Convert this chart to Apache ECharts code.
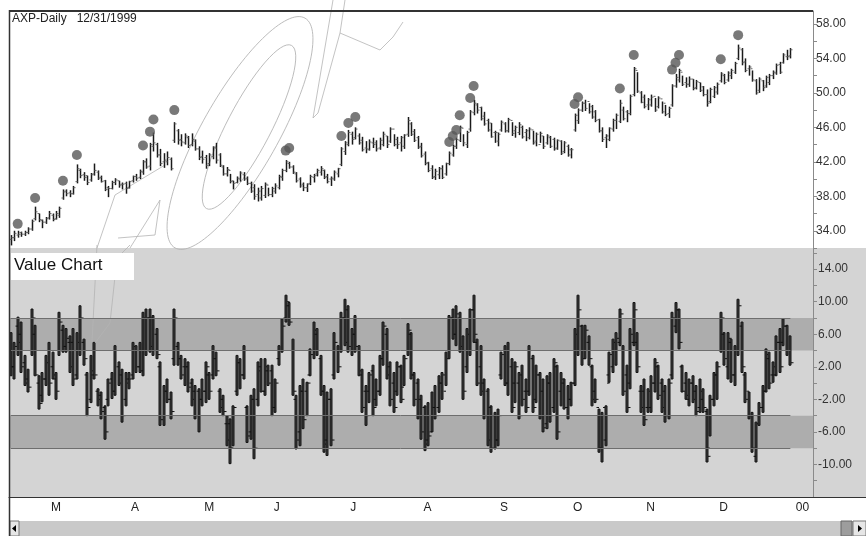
<!DOCTYPE html>
<html><head><meta charset="utf-8">
<script src="https://cdn.jsdelivr.net/npm/echarts/dist/echarts.min.js"></script>
<style>html,body{margin:0;padding:0;background:#fff;}#c{width:866px;height:536px;}</style>
</head><body><div id="c"></div>
<script>
// ---- categories: trading days ----
const firstDay = '1999-02-11', lastDay = '1999-12-31';
const holidays = ['1999-02-15','1999-04-02','1999-05-31','1999-07-05','1999-09-06','1999-11-25','1999-12-24'];
const padDays = ['2000-01-03','2000-01-04','2000-01-05','2000-01-06','2000-01-07','2000-01-10'];
const monthLetters = ['00','F','M','A','M','J','J','A','S','O','N','D'];

// ---- price (AXP daily) ----
const pHigh = [33.5,34.0,34.0,33.9,34.0,34.4,35.3,36.8,36.0,35.3,
35.6,36.3,36.0,36.3,36.8,38.8,38.8,38.7,39.2,41.7,
41.2,40.8,40.4,40.7,41.8,41.0,40.4,39.9,39.2,39.8,
40.1,39.8,39.6,39.7,39.8,40.4,40.6,41.1,42.2,42.4,
44.2,45.4,44.2,43.5,43.0,43.2,42.5,46.6,45.8,45.2,
45.3,45.0,45.3,44.6,43.8,43.3,42.8,43.0,43.8,44.2,
43.0,41.6,41.4,40.6,39.8,40.3,40.9,40.8,40.3,39.7,
39.4,39.0,39.2,39.6,39.0,39.1,39.5,40.5,41.2,42.2,
42.0,41.6,40.8,40.2,39.6,39.5,40.5,40.6,41.2,41.5,
41.1,40.6,40.3,41.0,41.3,43.7,44.4,45.7,45.5,46.0,
45.3,44.9,44.4,44.6,44.8,44.5,44.8,45.5,45.0,46.0,
45.2,44.9,45.0,45.2,47.2,46.6,45.8,45.0,44.2,43.2,
42.0,41.6,41.2,41.4,41.6,41.9,43.2,44.0,44.8,46.2,
45.2,45.6,48.0,49.2,48.8,48.4,47.8,47.0,46.5,45.6,
45.4,46.8,46.6,47.1,46.6,46.2,46.6,46.2,45.8,46.0,
45.6,45.4,45.5,45.0,45.2,45.0,44.8,44.6,44.5,44.4,
44.0,43.6,47.6,48.2,49.0,49.2,48.8,48.6,48.0,47.0,
46.0,45.2,46.0,47.0,47.6,49.2,48.4,48.0,49.8,53.0,
52.4,50.2,49.8,49.4,49.8,49.4,49.6,49.0,48.6,48.4,
51.0,52.2,52.8,52.0,51.8,51.9,51.6,51.5,51.2,50.8,
50.4,50.6,50.8,51.2,52.4,52.2,52.5,52.8,53.6,55.6,
55.2,54.0,53.2,52.6,51.6,51.8,51.5,52.0,52.2,52.6,
53.4,53.6,54.6,55.0,55.2];
const pLow = [32.3,32.8,33.2,33.3,33.4,33.6,34.0,35.2,35.0,34.3,
34.8,35.3,35.1,35.3,35.5,37.6,38.0,37.9,38.2,39.5,
40.1,39.8,39.3,39.7,40.4,39.9,39.6,38.6,37.9,38.8,
39.3,39.0,38.8,38.3,38.9,39.6,39.8,40.0,40.5,41.2,
41.0,43.2,42.5,41.5,41.3,41.6,41.0,44.2,44.0,43.8,
44.0,43.6,43.8,43.3,42.2,41.8,41.2,41.5,42.3,41.8,
41.4,40.4,40.3,39.5,38.8,39.5,39.7,39.8,39.3,38.4,
37.6,37.4,37.5,37.8,38.0,37.9,38.3,38.8,39.8,40.8,
41.2,40.6,39.6,39.0,38.6,38.5,39.3,39.6,40.3,40.4,
40.0,39.5,39.2,39.8,40.2,41.5,42.8,43.8,44.0,44.6,
44.0,43.2,43.0,43.3,43.6,43.2,43.4,43.8,43.6,44.2,
43.8,43.5,43.2,43.5,44.9,45.0,44.3,43.5,42.5,41.6,
40.8,40.0,39.9,40.0,40.0,40.4,41.6,42.6,43.5,44.3,
43.8,43.6,45.5,47.4,47.6,46.8,46.2,45.5,44.8,44.2,
43.8,45.5,45.4,45.4,45.0,44.8,45.1,44.7,44.4,44.6,
44.0,43.8,44.2,43.5,44.0,43.6,43.3,43.4,42.8,43.0,
42.6,42.4,45.5,46.4,47.8,47.9,47.6,47.0,46.6,45.4,
44.3,43.6,44.4,45.5,45.8,46.5,46.8,46.6,47.4,49.6,
50.0,48.8,48.2,48.0,48.4,47.8,48.2,47.6,47.3,47.1,
48.4,50.6,51.2,50.8,50.6,50.7,50.3,50.4,50.1,49.6,
48.4,48.8,49.4,49.8,51.2,51.0,51.3,51.6,52.2,53.8,
53.2,52.4,52.0,51.3,49.8,50.0,50.2,50.6,50.9,51.6,
52.1,52.2,53.4,53.8,54.0];
const pOpen = [33.0,33.2,33.5,33.8,33.6,33.8,34.2,35.4,36.0,35.2,
35.0,35.5,35.8,35.4,35.8,37.8,38.6,38.4,38.3,39.7,
41.0,40.5,40.4,39.9,40.6,40.8,40.2,39.8,39.0,38.9,
39.6,39.8,39.4,39.5,39.0,39.8,40.3,40.2,40.8,42.0,
41.5,43.8,44.0,42.8,42.0,42.0,42.3,44.5,45.6,44.6,
44.2,44.8,44.0,44.4,43.5,42.6,42.5,41.8,42.6,43.6,
42.8,41.4,40.6,41.0,39.8,39.6,40.0,40.5,40.1,39.5,
39.0,38.2,37.8,38.1,39.3,38.2,38.6,39.0,40.2,41.0,
41.8,41.4,40.6,40.0,39.4,39.0,39.5,40.2,40.6,40.8,
41.0,40.3,40.0,40.0,40.6,41.7,43.2,44.0,45.2,44.8,
45.0,44.5,43.6,43.4,44.2,44.2,43.6,44.0,45.0,44.4,
45.8,44.6,44.2,43.8,45.2,46.4,45.5,44.8,43.8,42.9,
41.9,41.2,40.3,40.5,41.2,40.6,41.8,42.8,43.8,44.5,
45.9,44.0,45.8,47.7,48.6,48.3,47.3,46.8,46.5,45.4,
44.4,45.7,46.4,45.6,46.8,45.6,45.4,46.0,45.4,44.8,
45.7,44.4,44.0,45.0,44.2,44.8,44.6,43.6,44.4,43.2,
43.8,43.4,45.7,46.8,48.0,48.8,49.0,48.4,47.8,46.9,
45.6,44.8,44.6,45.8,46.8,46.7,48.0,47.8,47.6,49.8,
52.6,50.0,49.5,48.6,48.6,49.6,48.4,49.3,48.8,47.6,
48.6,50.8,51.5,52.4,51.2,51.0,51.6,50.6,51.2,50.7,
49.8,49.0,49.6,50.1,51.4,52.0,51.5,52.0,52.4,54.0,
55.0,53.6,52.8,52.8,51.4,50.3,51.4,50.8,51.2,52.0,
52.3,53.3,53.5,54.2,54.3];
const pClose = [33.2,33.7,33.6,33.6,33.8,34.2,35.1,36.2,35.3,35.0,
35.4,36.0,35.3,36.0,36.6,38.5,38.3,38.3,39.0,41.2,
40.4,40.2,39.6,40.5,41.0,40.1,39.7,38.8,38.9,39.6,
39.9,39.3,39.4,38.9,39.7,40.3,40.1,40.9,42.0,41.4,
44.0,44.2,42.8,41.8,42.2,42.5,41.2,46.4,44.5,44.3,
45.0,43.9,44.6,43.5,42.5,42.3,41.6,42.8,43.7,42.2,
41.6,40.6,41.1,39.7,39.5,40.1,40.7,40.0,39.5,38.6,
38.0,38.6,38.9,39.4,38.2,38.9,39.2,40.3,41.0,42.0,
41.4,40.8,39.8,39.2,39.0,39.4,40.3,40.4,41.0,41.2,
40.2,39.7,40.1,40.8,41.2,43.5,44.2,45.4,44.6,45.8,
44.2,43.4,43.5,44.3,44.0,43.5,44.5,45.2,44.0,45.8,
44.0,44.0,44.8,45.1,46.8,45.2,44.5,43.7,42.7,41.8,
41.0,40.2,40.9,41.2,40.2,41.8,43.0,43.8,44.6,46.0,
44.2,45.4,47.8,48.8,48.0,47.0,46.4,45.7,44.9,45.4,
45.2,46.6,45.6,46.9,45.3,46.0,46.3,44.9,45.6,45.8,
44.2,45.2,45.3,43.8,45.0,43.8,43.5,44.5,43.0,44.2,
42.8,43.4,47.4,48.0,48.8,48.2,47.8,47.2,46.8,45.6,
44.6,45.0,45.9,46.8,47.4,48.8,47.0,47.6,49.6,52.8,
50.2,48.9,48.4,49.2,49.5,48.0,49.4,47.8,47.5,48.2,
50.8,51.8,52.6,51.0,51.0,51.6,50.5,51.3,50.3,49.8,
48.8,50.4,50.6,51.0,52.2,51.2,52.3,52.6,53.4,55.2,
53.5,52.6,53.0,51.5,50.0,51.6,50.6,51.8,52.0,52.4,
53.2,52.4,54.4,54.2,55.0];

// ---- signal dots above bars ----
const dotIdx = [2,7,15,19,38,40,41,47,79,80,95,97,99,126,127,128,129,132,133,162,163,175,179,190,191,192,204,209];
const dotVal = [34.8,37.8,39.8,42.8,43.9,45.5,46.9,48.0,43.3,43.6,45.0,46.5,47.2,44.3,45.0,45.7,47.4,49.4,50.8,48.7,49.5,50.5,54.4,52.7,53.5,54.4,53.9,56.7];

// ---- Value Chart ----
const vHigh = [6.2,5.0,8.1,7.5,3.4,1.7,9.1,7.1,0.9,1.3,
3.4,5.0,3.8,1.3,8.7,7.1,6.7,5.8,6.7,6.2,
9.5,5.4,1.3,3.4,5.0,-0.7,-1.1,-2.8,0.5,1.3,
4.6,2.6,1.7,1.3,1.3,5.0,4.6,5.0,8.7,9.1,
9.1,8.3,6.7,2.6,-0.3,0.5,-1.1,9.1,5.0,3.4,
3.0,2.6,0.5,-0.3,-0.7,0.5,2.6,1.3,4.6,3.8,
-0.7,-1.5,-4.0,-4.4,-2.8,3.4,3.0,4.6,-2.8,-1.5,
-0.7,2.6,3.0,3.0,2.2,2.2,0.5,4.6,7.9,10.8,
9.9,5.4,-1.5,-0.3,0.5,0.1,4.2,7.5,6.7,3.4,
-0.3,-1.1,-0.7,6.2,4.6,8.7,10.3,9.5,6.7,8.3,
4.6,1.7,-0.3,1.3,2.2,0.5,3.4,7.5,6.7,2.6,
1.3,2.6,2.2,3.4,7.3,6.2,1.3,0.5,-1.5,-2.8,
-2.4,-1.1,-0.3,0.9,1.3,3.8,8.3,9.1,9.5,8.7,
5.8,6.7,9.1,10.8,5.4,4.6,0.5,-0.7,-2.8,-3.6,
-3.2,3.8,4.6,5.0,3.0,2.6,1.3,2.2,0.5,4.6,
3.4,2.2,1.3,0.5,0.9,1.3,3.0,2.2,1.3,0.5,
-0.3,0.1,6.7,10.8,7.1,7.1,5.8,2.2,0.5,-3.2,
-3.6,-2.8,3.8,5.4,6.2,9.1,4.6,2.2,6.7,9.9,
6.2,-0.3,0.5,-0.7,0.9,3.0,2.2,0.5,-0.3,0.5,
8.7,9.9,9.1,2.2,1.3,0.5,0.9,-0.3,0.5,-0.7,
-3.2,-1.5,1.3,2.6,8.7,6.2,6.2,5.4,4.6,10.3,
7.5,1.3,-1.1,-3.6,-4.8,-2.4,-0.3,4.2,3.8,2.6,
5.8,6.7,7.9,7.1,5.8];
const vLow = [0.9,0.5,3.4,1.3,-0.3,-1.1,3.4,0.9,-3.2,-2.3,
-0.3,-1.5,0.5,-2.0,3.4,3.8,3.8,1.3,-0.3,0.5,
3.4,2.2,-4.0,-2.4,0.5,-2.8,-4.4,-6.9,-2.8,-1.9,
-1.5,-0.3,-4.8,-2.8,-0.7,0.5,1.3,1.3,0.9,3.4,
3.8,3.4,3.0,-5.2,-5.2,-2.4,-4.4,2.2,2.2,0.5,
-0.3,-1.1,-2.8,-4.4,-6.0,-2.8,-2.4,-2.0,0.5,0.9,
-3.6,-4.0,-7.7,-9.9,-7.7,-1.5,-0.7,0.5,-7.3,-6.9,
-9.3,-2.8,-1.1,-1.5,-0.3,-4.0,-3.6,2.2,3.8,7.5,
7.1,-1.5,-8.1,-7.7,-5.6,-4.0,0.9,3.0,3.4,-1.5,
-8.5,-8.9,-7.7,0.5,1.3,3.8,4.6,3.8,3.4,3.8,
0.9,-3.6,-5.2,-2.4,-4.0,-2.8,-1.5,2.2,0.5,-2.8,
-3.6,-1.5,-2.4,-0.3,3.4,0.5,-2.8,-4.4,-6.9,-8.3,
-7.7,-6.0,-4.4,-3.6,-2.0,-0.3,3.0,5.4,4.6,3.8,
-2.0,1.3,3.4,5.0,-0.3,-1.5,-4.4,-7.7,-8.5,-8.1,
-7.7,0.5,-0.3,-1.5,-3.6,-2.4,-4.4,-2.8,-3.6,-1.5,
-3.6,-2.4,-4.4,-6.0,-5.6,-4.8,-3.6,-6.9,-2.8,-3.2,
-4.4,-2.8,-0.3,3.4,2.2,3.0,2.2,-2.8,-2.4,-8.5,
-9.7,-7.7,0.1,1.3,2.2,4.6,-1.5,-3.6,-0.7,4.6,
1.3,-3.6,-5.2,-3.6,-3.6,-1.1,-2.0,-3.6,-4.8,-4.4,
0.5,6.2,4.2,-1.1,-2.0,-2.8,-2.4,-4.0,-3.6,-3.6,
-9.7,-6.5,-2.8,-2.0,3.8,2.2,0.5,0.1,-0.3,3.4,
1.3,-2.4,-4.4,-8.5,-9.7,-5.2,-3.6,-1.1,-0.7,0.1,
0.9,1.3,4.6,3.4,2.2];
const vOpen = [4.0,2.0,7.0,6.0,2.5,0.5,4.0,6.0,0.0,-1.5,
0.5,4.0,2.0,0.5,4.0,6.5,4.5,5.0,5.0,1.0,
4.0,5.0,1.0,-2.0,1.0,-1.0,-1.5,-3.0,-2.0,0.5,
-1.0,2.0,1.0,-2.0,0.5,1.0,4.0,2.0,1.5,4.0,
8.0,8.0,6.0,2.0,-4.0,-1.0,-2.0,3.0,4.5,3.0,
2.0,2.0,0.0,-1.0,-1.0,-2.0,-1.0,1.0,1.0,3.0,
-1.0,-2.0,-5.0,-5.0,-8.0,-1.0,2.5,1.0,-3.0,-6.0,
-2.0,-2.0,2.0,-1.0,1.5,1.5,-3.0,3.0,4.0,8.0,
9.5,4.0,-2.0,-6.0,-1.0,-1.0,1.0,4.0,6.0,3.0,
-1.0,-7.0,-2.0,1.0,4.0,4.0,8.0,9.0,4.0,6.0,
4.0,1.0,-1.0,-1.0,1.5,-2.0,-1.0,3.0,6.0,2.0,
0.0,-1.0,2.0,-0.5,4.0,6.0,1.0,0.0,-2.0,-3.0,
-7.0,-6.0,-3.0,-3.0,0.0,-1.0,4.0,8.0,6.0,8.0,
4.0,2.0,4.0,9.0,5.0,2.0,0.0,-1.0,-3.0,-4.0,
-7.0,1.0,4.0,0.0,2.0,0.0,0.0,1.0,-1.0,-1.0,
3.0,-2.0,1.0,-1.0,-5.0,0.0,-3.0,2.0,-1.0,0.0,
-3.0,-2.0,0.0,4.0,7.0,4.0,5.0,2.0,-1.0,-3.0,
-8.0,-7.0,1.0,2.0,4.0,5.0,4.0,1.0,0.0,5.0,
5.0,-1.0,-1.0,-3.0,-3.0,0.0,2.0,0.0,-1.0,-4.0,
1.0,7.0,9.0,2.0,0.0,-2.0,0.0,-1.0,-3.0,-2.0,
-3.5,-8.0,-2.0,1.0,4.0,6.0,2.0,5.0,1.0,4.0,
7.0,1.0,-1.0,-4.0,-9.0,-4.0,-3.0,-1.0,3.0,1.0,
1.0,5.0,5.0,7.0,4.0];
const vClose = [2.0,4.5,5.0,2.0,0.0,-0.5,8.0,1.0,-2.5,0.5,
2.5,0.0,1.0,-1.0,7.5,4.5,5.5,2.0,0.5,5.0,
8.0,3.0,-3.0,1.5,1.0,-2.0,-3.5,-6.0,0.0,-1.0,
4.0,0.0,-4.0,0.0,0.5,4.5,2.0,4.0,8.0,8.0,
4.5,4.0,3.5,-4.5,-1.0,-2.0,-3.5,8.0,3.0,1.0,
2.0,-0.5,-2.0,-4.0,-2.0,-1.0,2.0,-1.0,4.0,1.5,
-3.0,-3.5,-7.0,-8.0,-3.0,2.5,1.0,4.0,-6.5,-2.0,
-8.0,1.5,-1.0,2.0,0.0,-3.0,0.0,4.0,7.0,10.0,
7.5,-1.0,-7.0,-1.0,-4.5,0.0,3.5,6.5,4.0,-1.0,
-7.5,-2.0,-7.0,5.0,2.0,8.0,5.0,4.5,6.0,4.5,
1.5,-3.0,-4.0,1.0,-3.0,-1.0,3.0,7.0,1.0,-2.0,
-3.0,2.0,-2.0,3.0,6.5,1.0,-2.0,-4.0,-6.0,-7.5,
-6.5,-3.0,-4.0,0.0,1.0,3.0,8.0,6.0,8.5,4.5,
-1.0,6.0,9.0,6.0,0.0,-1.0,-4.0,-7.0,-8.0,-7.0,
-4.0,3.5,0.0,4.0,-3.0,2.0,-4.0,-2.0,-3.0,4.0,
-3.0,1.0,-4.0,-5.5,0.0,-4.0,2.5,-6.0,0.5,-3.0,
-2.0,0.0,6.0,9.0,3.0,6.5,3.0,-2.0,-2.0,-8.0,
-3.0,0.0,3.5,5.0,5.5,8.5,-1.0,-3.0,6.0,9.0,
2.0,-3.0,-4.5,-1.0,0.0,2.5,-1.5,-3.0,-4.0,0.0,
8.0,9.0,5.0,-1.0,-1.5,0.0,-2.0,-3.5,-1.0,-3.0,
-9.0,-2.0,1.0,2.0,8.0,3.0,5.5,1.0,4.0,9.5,
2.0,-2.0,-4.0,-8.0,-5.0,-3.0,-1.0,3.5,0.0,2.0,
5.0,2.0,7.0,4.0,2.5];
const bandUpper = [4, 8], bandLower = [-8, -4];

// ---- build trading-day categories ----
function buildDates() {
  const out = [];
  const d = new Date(firstDay + 'T00:00:00Z'), end = new Date(lastDay + 'T00:00:00Z');
  while (d <= end) {
    const s = d.toISOString().slice(0, 10), wd = d.getUTCDay();
    if (wd !== 0 && wd !== 6 && holidays.indexOf(s) < 0) out.push(s);
    d.setUTCDate(d.getUTCDate() + 1);
  }
  return out.concat(padDays);
}
const dates = buildDates();
const nBars = pHigh.length;

const priceData = pHigh.map((h, i) => [i, pOpen[i], h, pLow[i], pClose[i]]);
const valueData = vHigh.map((h, i) => [i, vOpen[i], h, vLow[i], vClose[i]]);
const dotData = dotIdx.map((d, k) => [d, dotVal[k]]);

function isMonthStart(i) {
  if (i === 0) return false;
  return dates[i].slice(5, 7) !== dates[i - 1].slice(5, 7);
}
function isWeekStart(i) {
  if (i === 0) return false;
  const a = new Date(dates[i - 1] + 'T00:00:00Z').getUTCDay();
  const b = new Date(dates[i] + 'T00:00:00Z').getUTCDay();
  return b < a;
}

function priceBar(params, api) {
  const i = api.value(0);
  const o = api.coord([i, api.value(1)]), h = api.coord([i, api.value(2)]);
  const l = api.coord([i, api.value(3)]), c = api.coord([i, api.value(4)]);
  const x = Math.round(h[0]) + 0.5;
  return { type: 'group', children: [
    { type: 'line', shape: { x1: x, y1: h[1], x2: x, y2: l[1] }, style: { stroke: '#1a1a1a', lineWidth: 1.5 } },
    { type: 'line', shape: { x1: x - 2, y1: o[1], x2: x, y2: o[1] }, style: { stroke: '#666', lineWidth: 1 } },
    { type: 'line', shape: { x1: x, y1: c[1], x2: x + 2, y2: c[1] }, style: { stroke: '#666', lineWidth: 1 } }
  ]};
}
function valueBar(params, api) {
  const i = api.value(0);
  const o = api.coord([i, api.value(1)]), h = api.coord([i, api.value(2)]);
  const l = api.coord([i, api.value(3)]), c = api.coord([i, api.value(4)]);
  const x = Math.round(h[0]);
  return { type: 'group', children: [
    { type: 'rect', shape: { x: x - 1, y: h[1], width: 2, height: Math.max(1, l[1] - h[1]) },
      style: { fill: '#3c3c3c', stroke: '#151515', lineWidth: 1 } },
    { type: 'line', shape: { x1: x - 2.5, y1: o[1], x2: x, y2: o[1] }, style: { stroke: '#111', lineWidth: 1 } },
    { type: 'line', shape: { x1: x + 1, y1: c[1], x2: x + 3.5, y2: c[1] }, style: { stroke: '#111', lineWidth: 1 } }
  ]};
}

// watermark outline shapes (faint)
const wmStyle = { fill: 'none', stroke: '#b4b4b4', lineWidth: 0.8 };

const FONT = 'Liberation Sans, Arial, sans-serif';
const chart = echarts.init(document.getElementById('c'), null, { renderer: 'canvas' });
function fmt(v, base) {
  const r = ((v - base) % 4 + 4) % 4;
  return (Math.abs(r) < 0.01 || Math.abs(r - 4) < 0.01) ? v.toFixed(2) : '';
}
chart.setOption({
  animation: false,
  backgroundColor: '#ffffff',
  grid: [
    { left: 9, top: 11, width: 804, height: 237 },
    { left: 9, top: 248, width: 804, height: 249 }
  ],
  xAxis: [
    { type: 'category', gridIndex: 0, data: dates, show: false, boundaryGap: true },
    { type: 'category', gridIndex: 1, data: dates, boundaryGap: true,
      axisLine: { onZero: false, lineStyle: { color: '#333', width: 1 } },
      axisTick: { interval: (i) => isWeekStart(i), length: 3, lineStyle: { color: '#444' } },
      axisLabel: { interval: (i) => isMonthStart(i), formatter: (v) => monthLetters[parseInt(v.slice(5, 7), 10) - 1],
        color: '#222', fontFamily: FONT, fontSize: 12, margin: 5, align: 'left', padding: [0, 0, 0, 2] } },
    { type: 'category', gridIndex: 1, data: dates, boundaryGap: true, position: 'bottom',
      axisLine: { show: false, onZero: false }, axisLabel: { show: false },
      axisTick: { interval: (i) => isMonthStart(i), length: 7, lineStyle: { color: '#444' } } }
  ],
  yAxis: [
    { type: 'value', gridIndex: 0, position: 'right', min: 32, max: 59.5, interval: 2, scale: true,
      splitLine: { show: false },
      axisLine: { show: true, lineStyle: { color: '#8a8a8a' } },
      axisTick: { show: true, length: 4, lineStyle: { color: '#8a8a8a' } },
      axisLabel: { formatter: (v) => fmt(v, 34), color: '#333', fontFamily: FONT, fontSize: 12, margin: 3, showMaxLabel: false } },
    { type: 'value', gridIndex: 1, position: 'right', min: -14, max: 16.6, interval: 2,
      splitLine: { show: false },
      axisLine: { show: true, lineStyle: { color: '#8a8a8a' } },
      axisTick: { show: true, length: 4, lineStyle: { color: '#8a8a8a' } },
      axisLabel: { formatter: (v) => (v < -13 ? '' : fmt(v, 2)), color: '#333', fontFamily: FONT, fontSize: 12, margin: 5,
        showMinLabel: false, showMaxLabel: false } }
  ],
  series: [
    { type: 'custom', name: 'AXP', xAxisIndex: 0, yAxisIndex: 0, data: priceData, renderItem: priceBar, clip: true, z: 3 },
    { type: 'scatter', name: 'signals', xAxisIndex: 0, yAxisIndex: 0, data: dotData, symbol: 'circle', symbolSize: 10,
      itemStyle: { color: '#585858' }, z: 4 },
    { type: 'line', name: 'bands', xAxisIndex: 1, yAxisIndex: 1, data: [], silent: true,
      markArea: { silent: true, itemStyle: { color: '#adadad' },
        data: [[{ yAxis: bandUpper[0] }, { yAxis: bandUpper[1] }], [{ yAxis: bandLower[0] }, { yAxis: bandLower[1] }]] },
      markLine: { silent: true, symbol: ['none', 'none'], label: { show: false },
        lineStyle: { color: '#6e6e6e', type: 'solid', width: 1 },
        data: [bandUpper[0], bandUpper[1], bandLower[0], bandLower[1]].map(v => [{ coord: [0, v] }, { coord: [nBars - 1, v] }]) } },
    { type: 'custom', name: 'Value Chart', xAxisIndex: 1, yAxisIndex: 1, data: valueData, renderItem: valueBar, clip: true, z: 3 }
  ],
  graphic: [
    { type: 'rect', shape: { x: 9, y: 248, width: 857, height: 249 }, style: { fill: '#d4d4d4' }, z: -10, silent: true },
    // watermark
    { type: 'ellipse', x: 240, y: 133, rotation: 60.5 * Math.PI / 180, shape: { cx: 0, cy: 0, rx: 132, ry: 38 }, style: wmStyle, z: 1, silent: true },
    { type: 'ellipse', x: 249, y: 127, rotation: 62.5 * Math.PI / 180, shape: { cx: 0, cy: 0, rx: 92, ry: 22 }, style: wmStyle, z: 1, silent: true },
    { type: 'polyline', shape: { points: [[333, 0], [313, 118], [318, 113], [340, 33], [345, 0]] }, style: wmStyle, z: 1, silent: true },
    { type: 'polyline', shape: { points: [[340, 33], [380, 50], [393, 37], [403, 22]] }, style: wmStyle, z: 1, silent: true },
    { type: 'polyline', shape: { points: [[97, 245], [92, 342]] }, style: wmStyle, z: 5, silent: true },
    { type: 'polyline', shape: { points: [[130, 245], [117, 258], [110, 323], [95, 343]] }, style: wmStyle, z: 5, silent: true },
    { type: 'polyline', shape: { points: [[97, 248], [115, 195], [165, 165]] }, style: wmStyle, z: 1, silent: true },
    { type: 'polyline', shape: { points: [[130, 248], [160, 200], [155, 235], [118, 238]] }, style: wmStyle, z: 1, silent: true },
    { type: 'line', shape: { x1: 9, y1: 11, x2: 813, y2: 11 }, style: { stroke: '#333', lineWidth: 2 }, z: 50 },
    { type: 'line', shape: { x1: 9.5, y1: 10, x2: 9.5, y2: 536 }, style: { stroke: '#333', lineWidth: 1.5 }, z: 50 },
    { type: 'line', shape: { x1: 813, y1: 497.5, x2: 866, y2: 497.5 }, style: { stroke: '#333', lineWidth: 1 }, z: 50 },
    { type: 'text', x: 12, y: 13, style: { text: 'AXP-Daily   12/31/1999', font: '12px ' + FONT, fill: '#222' }, z: 60 },
    { type: 'rect', shape: { x: 11, y: 253, width: 123, height: 27 }, style: { fill: '#ffffff' }, z: 60 },
    { type: 'text', x: 14, y: 257, style: { text: 'Value Chart', font: '17px ' + FONT, fill: '#111' }, z: 61 },
    // scrollbar
    { type: 'rect', shape: { x: 10, y: 521, width: 856, height: 15 }, style: { fill: '#c9c9c9' }, z: 40 },
    { type: 'rect', shape: { x: 10, y: 521, width: 9, height: 15 }, style: { fill: '#e6e6e6', stroke: '#777', lineWidth: 1 }, z: 41 },
    { type: 'polygon', shape: { points: [[12, 528.5], [16, 525], [16, 532]] }, style: { fill: '#000' }, z: 42 },
    { type: 'rect', shape: { x: 841, y: 521, width: 11, height: 15 }, style: { fill: '#9d9d9d', stroke: '#666', lineWidth: 1 }, z: 41 },
    { type: 'rect', shape: { x: 853, y: 521, width: 13, height: 15 }, style: { fill: '#e6e6e6', stroke: '#777', lineWidth: 1 }, z: 41 },
    { type: 'polygon', shape: { points: [[862, 528.5], [858, 525], [858, 532]] }, style: { fill: '#000' }, z: 42 }
  ]
});
</script></body></html>
